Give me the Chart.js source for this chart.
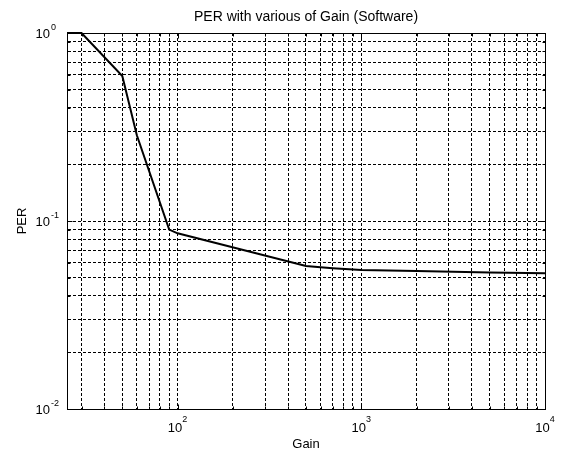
<!DOCTYPE html>
<html>
<head>
<meta charset="utf-8">
<script src="https://cdn.jsdelivr.net/npm/chart.js@4/dist/chart.umd.min.js"></script>
<style>
  body { margin: 0; background: #fff; }
</style>
</head>
<body>
<canvas id="chrPer" width="562" height="455"></canvas>
<script>
// data
gainValues = [25, 30, 50, 60, 90, 100, 500, 600, 700, 1000, 2000, 5000, 10000];
perValues  = [1, 1, 0.59, 0.286, 0.09, 0.086, 0.0577, 0.0567, 0.056, 0.0548, 0.0542, 0.0532, 0.0528];

// grid / tick positions
xTickValues = [30, 40, 50, 60, 70, 80, 90, 100, 200, 300, 400, 500, 600, 700, 800, 900,
               1000, 2000, 3000, 4000, 5000, 6000, 7000, 8000, 9000, 10000];
yTickValues = [0.01, 0.02, 0.03, 0.04, 0.05, 0.06, 0.07, 0.08, 0.09,
               0.1, 0.2, 0.3, 0.4, 0.5, 0.6, 0.7, 0.8, 0.9, 1];
xLabelExps = [2, 3, 4];
yLabelExps = [-2, -1, 0];

FONT = "'Liberation Sans', Arial, sans-serif";

isPow10 = (v) => Math.abs(Math.log10(v) - Math.round(Math.log10(v))) < 1e-9;

setTicks = (values) => (scale) => {
  scale.ticks = values.map(v => ({value: v, major: isPow10(v)}));
};

// box, inner ticks and 10^n labels like matlab
matlabFrame = {
  id: 'matlabFrame',
  beforeDatasetsDraw(chart) {
    const {ctx, chartArea: a, scales: {x, y}} = chart;
    const L = Math.round(a.left) + 0.5, R = Math.round(a.right) + 0.5;
    const T = Math.round(a.top) + 0.5, B = Math.round(a.bottom) + 0.5;
    ctx.save();
    ctx.strokeStyle = '#000';
    ctx.lineWidth = 1;
    ctx.setLineDash([]);
    ctx.beginPath();
    x.ticks.forEach(t => {
      const px = Math.round(x.getPixelForValue(t.value)) + 0.5;
      const len = t.major ? 5 : 3;
      ctx.moveTo(px, B); ctx.lineTo(px, B - len);
      ctx.moveTo(px, T); ctx.lineTo(px, T + len);
    });
    y.ticks.forEach(t => {
      const py = Math.round(y.getPixelForValue(t.value)) + 0.5;
      const len = t.major ? 5 : 3;
      ctx.moveTo(L, py); ctx.lineTo(L + len, py);
      ctx.moveTo(R, py); ctx.lineTo(R - len, py);
    });
    ctx.stroke();
    ctx.strokeRect(L, T, R - L, B - T);
    ctx.restore();
  },
  afterDraw(chart) {
    const {ctx, chartArea: a, scales: {x, y}} = chart;
    ctx.save();
    ctx.fillStyle = '#000';
    ctx.textBaseline = 'alphabetic';
    ctx.textAlign = 'left';
    xLabelExps.forEach(e => {
      const px = x.getPixelForValue(Math.pow(10, e));
      ctx.font = '13px ' + FONT;
      const wb = ctx.measureText('10').width;
      ctx.font = '9px ' + FONT;
      const we = ctx.measureText(String(e)).width;
      const x0 = px - (wb + we) / 2;
      ctx.font = '13px ' + FONT;
      ctx.fillText('10', x0, a.bottom + 23);
      ctx.font = '9px ' + FONT;
      ctx.fillText(String(e), x0 + wb, a.bottom + 13);
    });
    yLabelExps.forEach(e => {
      const py = y.getPixelForValue(Math.pow(10, e));
      const xr = a.left - 17;
      ctx.font = '13px ' + FONT;
      const wb = ctx.measureText('10').width;
      ctx.fillText('10', xr - wb, py + 5);
      ctx.font = '9px ' + FONT;
      ctx.fillText(String(e), xr + 1, py - 3);
    });
    ctx.restore();
  }
};

chrPer = () => {
  var ctx = document.getElementById('chrPer').getContext('2d');
  new Chart(ctx, {
    type: 'line',
    data: {
      datasets: [{
        label: 'PER',
        data: gainValues.map((g, i) => ({x: g, y: perValues[i]})),
        borderColor: '#000',
        borderWidth: 2,
        pointRadius: 0,
        tension: 0,
        fill: false,
        clip: 2
      }]
    },
    options: {
      responsive: false,
      animation: false,
      layout: { padding: { left: 0, right: 17, top: 0, bottom: 0 } },
      plugins: {
        legend: { display: false },
        tooltip: { enabled: false },
        title: {
          display: true,
          text: 'PER with various of Gain (Software)',
          fullSize: false,
          color: '#000',
          font: { family: FONT, size: 14, weight: 'normal' },
          padding: { top: 8.6, bottom: 7.6 }
        }
      },
      scales: {
        x: {
          type: 'logarithmic',
          min: 25,
          max: 10000,
          afterBuildTicks: setTicks(xTickValues),
          ticks: { display: false },
          grid: { color: '#000', lineWidth: 1, drawTicks: false },
          border: { display: true, color: '#000', width: 1, dash: [3, 2] },
          title: {
            display: true, text: 'Gain', color: '#000',
            font: { family: FONT, size: 13 },
            padding: { top: 27.2, bottom: 3.2 }
          }
        },
        y: {
          type: 'logarithmic',
          min: 0.01,
          max: 1,
          afterBuildTicks: setTicks(yTickValues),
          ticks: { display: false },
          grid: { color: '#000', lineWidth: 1, drawTicks: false },
          border: { display: true, color: '#000', width: 1, dash: [3, 2] },
          title: {
            display: true, text: 'PER', color: '#000',
            font: { family: FONT, size: 13 },
            padding: { top: 14.2, bottom: 37.2 }
          }
        }
      }
    },
    plugins: [matlabFrame]
  });
};

chrPer();
</script>
</body>
</html>
